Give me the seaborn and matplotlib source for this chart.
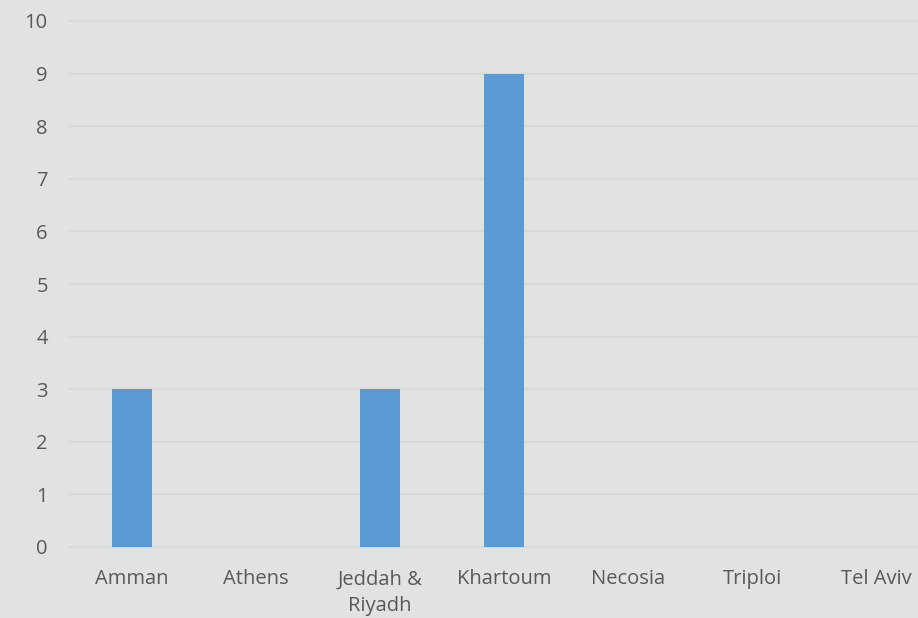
import seaborn as sns
import matplotlib.pyplot as plt
import pandas as pd

# data
cities = ["Amman", "Athens", "Jeddah &\nRiyadh", "Khartoum", "Necosia", "Triploi", "Tel Aviv"]
counts = [3, 0, 3, 9, 0, 0, 0]

df = pd.DataFrame({"city": cities, "count": counts})

sns.set_theme(style="white")
plt.rcParams['font.family'] = ['Open Sans', 'DejaVu Sans']

bg = "#e0e3e2"
fig = plt.figure(figsize=(9.18, 6.18), dpi=100, facecolor=bg)
ax = fig.add_axes([70 / 918, (618 - 547) / 618, 868 / 918, 526 / 618])
ax.set_facecolor(bg)

sns.barplot(data=df, x="city", y="count", color="#5b9bd5", saturation=1,
            width=0.32, linewidth=0, ax=ax)

ax.set_ylim(0, 10)
ax.set_yticks(range(0, 11))
ax.set_xlim(-0.5, len(cities) - 0.5)
ax.yaxis.grid(True, color="#d9d8d8", linewidth=1.5)
ax.set_axisbelow(True)
for gl in ax.get_ygridlines():
    gl.set_clip_on(False)
sns.despine(ax=ax, left=True, bottom=True)

ax.set_xlabel("")
ax.set_ylabel("")
ax.tick_params(axis="both", length=0, labelsize=14.5, labelcolor="#595959")
ax.tick_params(axis="y", pad=16)
ax.tick_params(axis="x", pad=16)
for lbl in ax.get_xticklabels():
    lbl.set_linespacing(1.45)
    lbl.set_verticalalignment("top")

fig.savefig("out.png", dpi=100, facecolor=bg)
